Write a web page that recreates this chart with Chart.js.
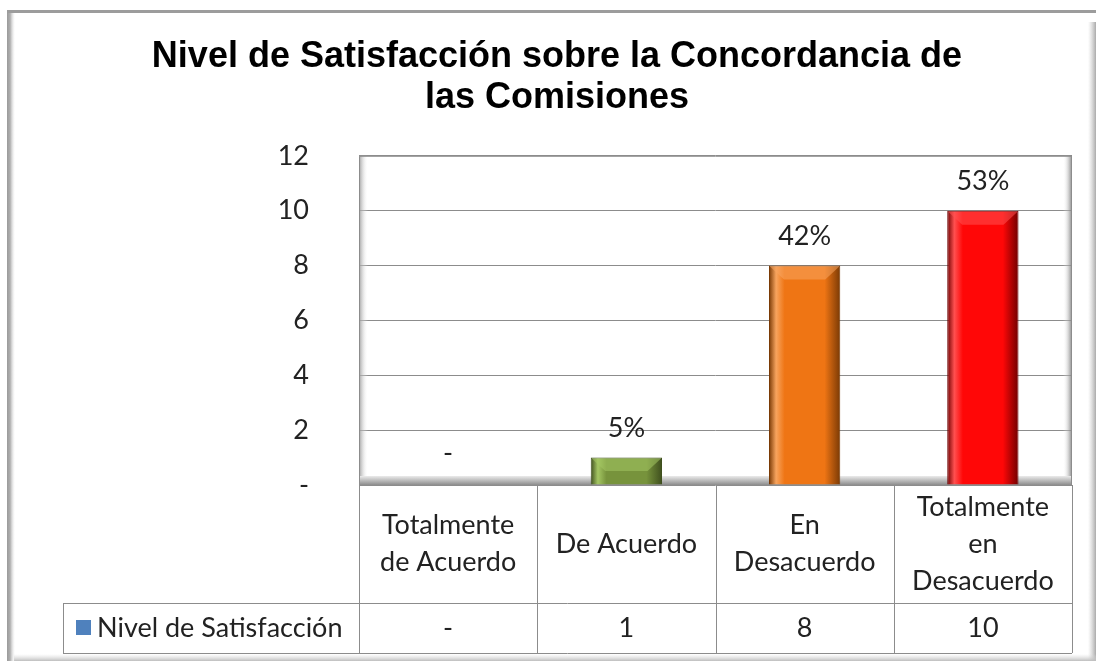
<!DOCTYPE html>
<html>
<head>
<meta charset="utf-8">
<title>Nivel de Satisfacción</title>
<script src="https://cdn.jsdelivr.net/npm/chart.js@4.4.1/dist/chart.umd.min.js"></script>
<style>
  html, body { margin: 0; padding: 0; background: #ffffff; }
  canvas { display: block; }
</style>
</head>
<body>
<canvas id="satisfaccionChart" width="1096" height="661"></canvas>
<script>
// datos del grafico
const categorias = [['Totalmente', 'de Acuerdo'], ['De Acuerdo'], ['En', 'Desacuerdo'], ['Totalmente', 'en', 'Desacuerdo']];
const valores = [0, 1, 8, 10];
const nombreSerie = 'Nivel de Satisfacción';
const tituloGrafico = ['Nivel de Satisfacción sobre la Concordancia de', 'las Comisiones'];
const ticksY = [0, 2, 4, 6, 8, 10, 12];

const coloresBarra = ['#9bbb59', '#77933c', '#ef7514', '#ff0707'];
const coloresClaros = ['#c3dc8c', '#a4c663', '#f7a45e', '#ff5050'];
const coloresOscuros = ['#4f6228', '#3f4f1e', '#7a3a05', '#700000'];

const total = valores.reduce((a, b) => a + b, 0);
const fuenteTexto = 'Lato';
const colorTexto = '#222222';
const colorLinea = '#8c8c8c';

function gradienteBarra(context) {
    const chart = context.chart;
    const i = context.dataIndex;
    if (!chart.chartArea || i === undefined) {
        return coloresBarra[i] || coloresBarra[0];
    }
    const xs = chart.scales.x;
    const colW = (chart.chartArea.right - chart.chartArea.left) / categorias.length;
    const half = colW * 0.4 / 2;
    const cx = xs.getPixelForValue(i);
    const g = chart.ctx.createLinearGradient(cx - half, 0, cx + half, 0);
    g.addColorStop(0, coloresOscuros[i]);
    g.addColorStop(0.1, coloresClaros[i]);
    g.addColorStop(0.22, coloresBarra[i]);
    g.addColorStop(0.78, coloresBarra[i]);
    g.addColorStop(1, coloresOscuros[i]);
    return g;
}

// marco exterior (recortado a la derecha y abajo) y fondo
const marcoPlugin = {
    id: 'marco',
    beforeDraw(chart) {
        const ctx = chart.ctx;
        const w = chart.width, h = chart.height;
        ctx.save();
        ctx.fillStyle = '#ffffff';
        ctx.fillRect(0, 0, w, h);

        // sombra derecha
        let g = ctx.createLinearGradient(w - 8, 0, w, 0);
        g.addColorStop(0, 'rgba(200,200,200,0)');
        g.addColorStop(1, 'rgba(170,170,170,1)');
        ctx.fillStyle = g;
        ctx.fillRect(w - 8, 22, 8, h - 22);

        // sombra inferior
        g = ctx.createLinearGradient(0, h - 7, 0, h);
        g.addColorStop(0, 'rgba(220,220,220,0)');
        g.addColorStop(1, 'rgba(190,190,190,1)');
        ctx.fillStyle = g;
        ctx.fillRect(14, h - 7, w - 14, 7);

        // borde izquierdo
        g = ctx.createLinearGradient(7, 0, 15, 0);
        g.addColorStop(0, '#9a9a9a');
        g.addColorStop(0.4, '#b0b0b0');
        g.addColorStop(1, 'rgba(230,230,230,0)');
        ctx.fillStyle = g;
        ctx.fillRect(7, 10, 8, h - 10);

        // borde superior
        ctx.fillStyle = '#9c9c9c';
        ctx.fillRect(7, 10, w - 7, 3);
        ctx.restore();
    }
};

// paredes y piso del area de trazado
const paredesPlugin = {
    id: 'paredes',
    beforeDatasetsDraw(chart) {
        const ctx = chart.ctx;
        const a = chart.chartArea;
        ctx.save();
        let g = ctx.createLinearGradient(a.left, 0, a.left + 9, 0);
        g.addColorStop(0, 'rgba(150,150,150,0.9)');
        g.addColorStop(1, 'rgba(255,255,255,0)');
        ctx.fillStyle = g;
        ctx.fillRect(a.left, a.top, 9, a.bottom - a.top);

        g = ctx.createLinearGradient(a.right - 9, 0, a.right, 0);
        g.addColorStop(0, 'rgba(255,255,255,0)');
        g.addColorStop(1, 'rgba(120,120,120,0.9)');
        ctx.fillStyle = g;
        ctx.fillRect(a.right - 9, a.top, 9, a.bottom - a.top);

        g = ctx.createLinearGradient(0, a.bottom - 9, 0, a.bottom);
        g.addColorStop(0, 'rgba(235,235,235,1)');
        g.addColorStop(1, 'rgba(140,140,140,1)');
        ctx.fillStyle = g;
        ctx.fillRect(a.left, a.bottom - 9, a.right - a.left, 9);

        ctx.strokeStyle = colorLinea;
        ctx.lineWidth = 1;
        ctx.beginPath();
        ctx.moveTo(a.left + 0.5, a.bottom);
        ctx.lineTo(a.left + 0.5, a.top + 0.5);
        ctx.lineTo(a.right - 0.5, a.top + 0.5);
        ctx.lineTo(a.right - 0.5, a.bottom);
        ctx.stroke();
        ctx.restore();
    }
};

// bisel superior de las barras y etiquetas de porcentaje
const etiquetasPlugin = {
    id: 'etiquetas',
    afterDatasetsDraw(chart) {
        const ctx = chart.ctx;
        const meta = chart.getDatasetMeta(0);
        ctx.save();
        meta.data.forEach((bar, i) => {
            const h = bar.base - bar.y;
            if (h <= 0) return;
            const left = bar.x - bar.width / 2 + 1;
            const right = bar.x + bar.width / 2 - 1;
            const b = Math.min(14, h / 2);
            ctx.fillStyle = coloresClaros[i];
            ctx.globalAlpha = 0.55;
            ctx.beginPath();
            ctx.moveTo(left, bar.y + 1);
            ctx.lineTo(right, bar.y + 1);
            ctx.lineTo(right - b, bar.y + b);
            ctx.lineTo(left + b, bar.y + b);
            ctx.closePath();
            ctx.fill();
            ctx.globalAlpha = 1;
        });

        ctx.font = '27px ' + fuenteTexto;
        ctx.fillStyle = colorTexto;
        ctx.textAlign = 'center';
        ctx.textBaseline = 'middle';
        meta.data.forEach((bar, i) => {
            const v = valores[i];
            const txt = v === 0 ? '-' : Math.round(v / total * 100) + '%';
            ctx.fillText(txt, bar.x, bar.y - (v === 0 ? 32 : 29));
        });
        ctx.restore();
    }
};

// tabla de datos debajo del grafico
const tablaPlugin = {
    id: 'tabla',
    afterDraw(chart) {
        const ctx = chart.ctx;
        const a = chart.chartArea;
        const xs = chart.scales.x;
        const colW = (a.right - a.left) / categorias.length;
        const top = a.bottom;
        const mid = top + 118;
        const bottom = mid + 50;
        const legendLeft = 63;

        ctx.save();
        ctx.strokeStyle = colorLinea;
        ctx.lineWidth = 1;
        ctx.beginPath();
        for (let i = 0; i <= categorias.length; i++) {
            const x = Math.round(a.left + i * colW) + 0.5;
            ctx.moveTo(x, top);
            ctx.lineTo(x, bottom);
        }
        ctx.moveTo(legendLeft, mid + 0.5);
        ctx.lineTo(a.right, mid + 0.5);
        ctx.moveTo(legendLeft, bottom + 0.5);
        ctx.lineTo(a.right, bottom + 0.5);
        ctx.moveTo(legendLeft + 0.5, mid);
        ctx.lineTo(legendLeft + 0.5, bottom);
        ctx.stroke();

        ctx.font = '27px ' + fuenteTexto;
        ctx.fillStyle = colorTexto;
        ctx.textAlign = 'center';
        ctx.textBaseline = 'middle';
        const headMid = (top + mid) / 2;
        categorias.forEach((lines, i) => {
            const cx = xs.getPixelForValue(i);
            const y0 = headMid - (lines.length - 1) * 37 / 2;
            lines.forEach((l, j) => ctx.fillText(l, cx, y0 + j * 37));
            const v = valores[i];
            ctx.fillText(v === 0 ? '-' : String(v), cx, (mid + bottom) / 2);
        });

        ctx.fillStyle = '#4f81bd';
        ctx.fillRect(legendLeft + 13, (mid + bottom) / 2 - 8, 15, 15);
        ctx.fillStyle = colorTexto;
        ctx.textAlign = 'left';
        ctx.fillText(nombreSerie, legendLeft + 34, (mid + bottom) / 2);
        ctx.restore();
    }
};

const ctx = document.getElementById('satisfaccionChart').getContext('2d');

new Chart(ctx, {
    type: 'bar',
    data: {
        labels: categorias,
        datasets: [{
            label: nombreSerie,
            data: valores,
            backgroundColor: gradienteBarra,
            borderColor: coloresOscuros,
            borderWidth: 1,
            barPercentage: 0.4,
            categoryPercentage: 1
        }]
    },
    options: {
        responsive: false,
        animation: false,
        layout: {
            padding: { left: 42, right: 24, top: 0, bottom: 0 }
        },
        plugins: {
            legend: { display: false },
            tooltip: { enabled: false },
            title: {
                display: true,
                text: tituloGrafico,
                color: '#000000',
                font: { family: 'Liberation Sans', size: 36, weight: 'bold', lineHeight: 1.15 },
                padding: { top: 36, bottom: 37 }
            }
        },
        scales: {
            x: {
                ticks: { display: false },
                grid: { display: false },
                border: { display: false },
                afterFit(scale) { scale.height = 176; }
            },
            y: {
                min: ticksY[0],
                max: ticksY[ticksY.length - 1],
                afterBuildTicks(scale) {
                    scale.ticks = ticksY.map(v => ({ value: v }));
                },
                ticks: {
                    padding: 50,
                    color: colorTexto,
                    font: { family: fuenteTexto, size: 27 },
                    callback: (v) => v === 0 ? '-' : v
                },
                grid: { color: colorLinea, drawTicks: false },
                border: { display: false },
                afterFit(scale) { scale.width = 317; }
            }
        }
    },
    plugins: [marcoPlugin, paredesPlugin, etiquetasPlugin, tablaPlugin]
});
</script>
</body>
</html>
